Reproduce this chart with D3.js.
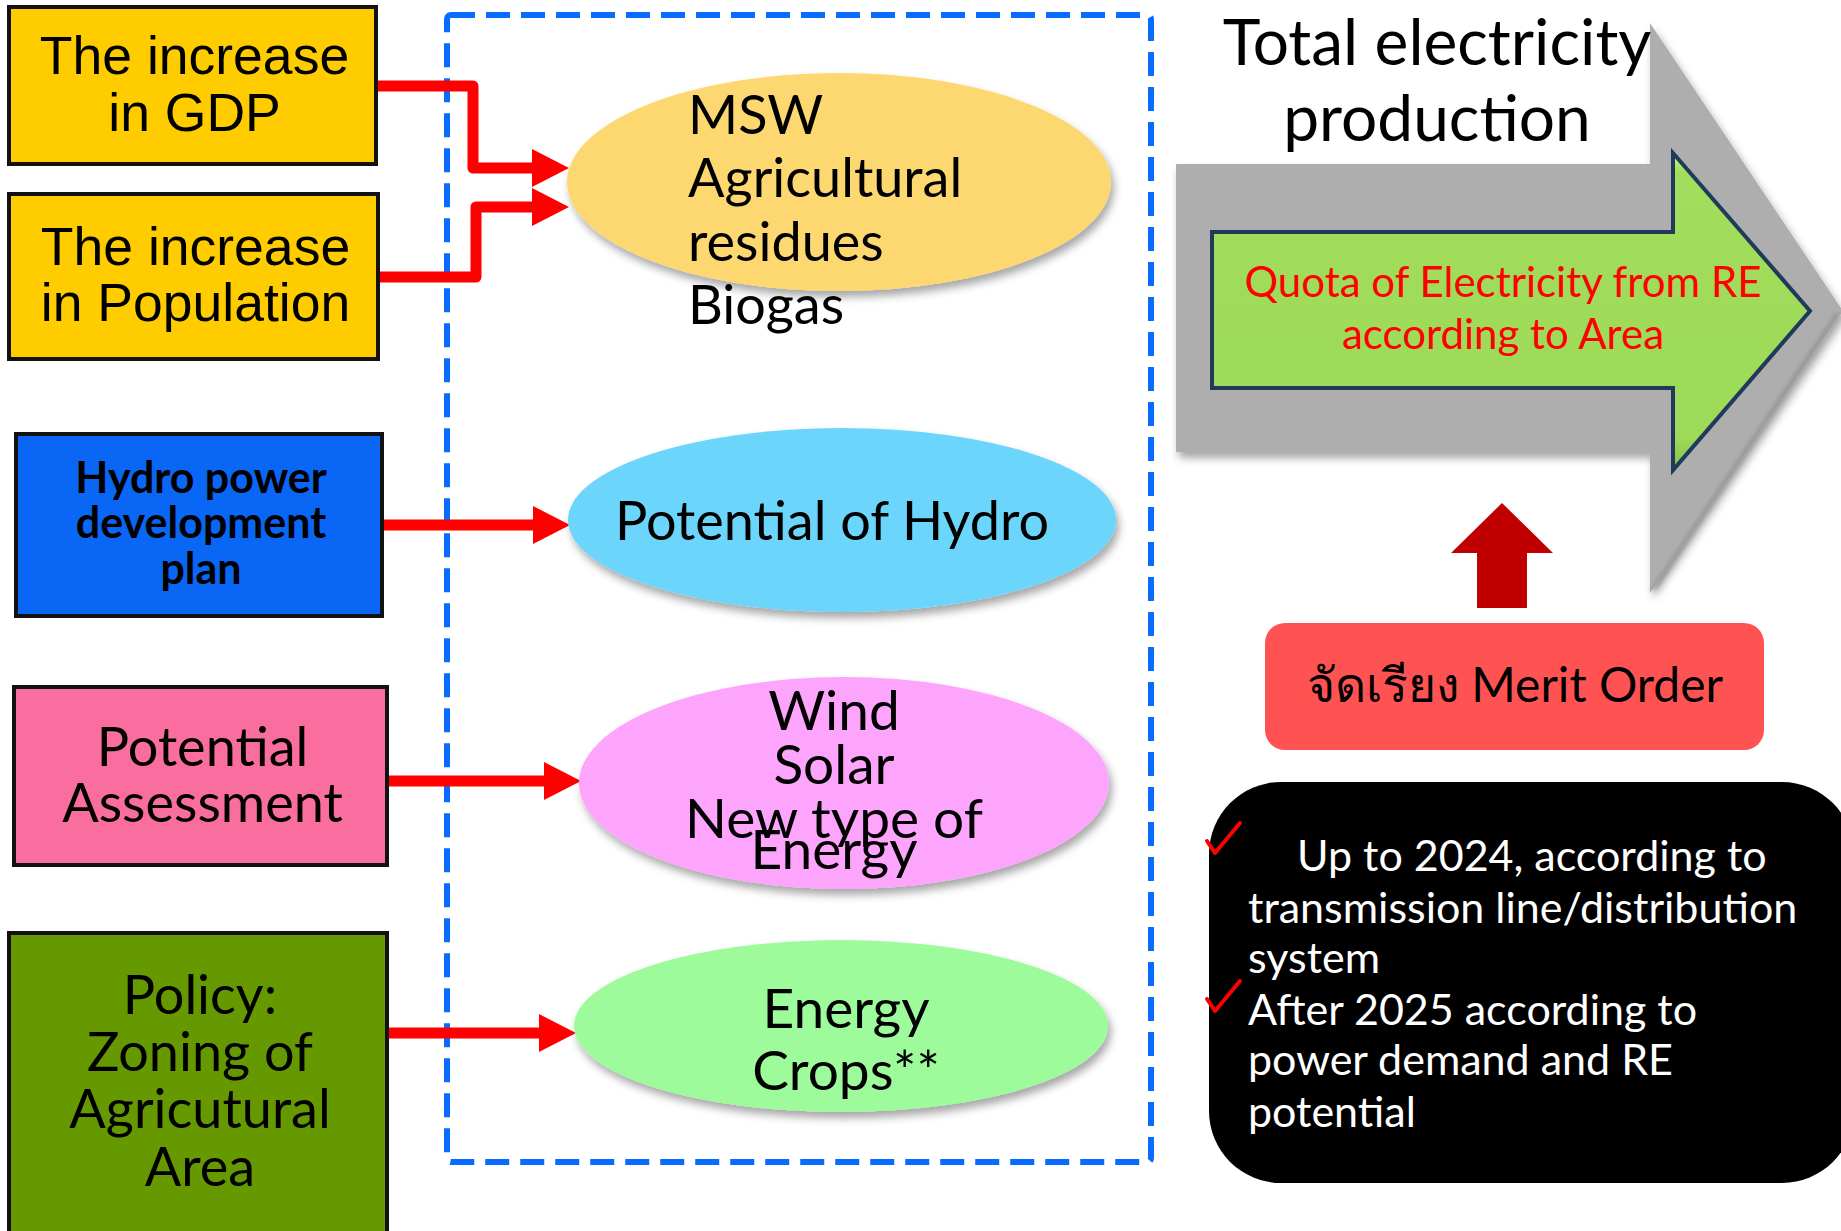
<!DOCTYPE html>
<html lang="en">
<head>
<meta charset="utf-8">
<title>RE quota by area</title>
<script src="https://d3js.org/d3.v7.min.js"></script>
<style>
  body { margin: 0; background: #fff; }
  svg { display: block; }
  .seg { font-family: Lato, "Open Sans", sans-serif; }
  .arial { font-family: "Liberation Sans", Arial, sans-serif; }
</style>
</head>
<body>
<div id="chart"></div>
<script>
"use strict"

// ---- content ----
var driverLabels = [
  ["The increase", "in GDP"],
  ["The increase", "in Population"],
  ["Hydro power", "development", "plan"],
  ["Potential", "Assessment"],
  ["Policy:", "Zoning of", "Agricutural", "Area"]
];
var potentialLabels = [
  ["MSW", "Agricultural", "residues", "Biogas"],
  ["Potential of Hydro"],
  ["Wind", "Solar", "New type of", "Energy"],
  ["Energy", "Crops**"]
];
// driver index -> potential index
var links = [[0, 0], [1, 0], [2, 1], [3, 2], [4, 3]];
var titleLines = ["Total electricity", "production"];
var quotaLines = ["Quota of Electricity from RE", "according to Area"];
var meritLabel = "จัดเรียง Merit Order";
var noteLines = ["Up to 2024, according to", "transmission line/distribution", "system",
                 "After 2025 according to", "power demand and RE", "potential"];

// ---- layout (pixels) ----
var W = 1841, H = 1231;
var boxLayout = [
  {x: 9,  y: 7,   w: 367, h: 157, fill: "#FFCC00", cls: "arial", size: 53.5, weight: 400, base: [74, 131], out: 86},
  {x: 9,  y: 194, w: 369, h: 165, fill: "#FFCC00", cls: "arial", size: 53.5, weight: 400, base: [265, 321], out: 277},
  {x: 16, y: 434, w: 366, h: 182, fill: "#0A66F5", cls: "seg", size: 43, weight: 700, base: [493, 538, 584], out: 525},
  {x: 14, y: 687, w: 373, h: 178, fill: "#F96E9E", cls: "seg", size: 54, weight: 400, base: [766, 822], out: 781},
  {x: 9,  y: 933, w: 378, h: 330, fill: "#669900", cls: "seg", size: 54, weight: 400, base: [1014, 1071, 1128, 1186], out: 1033}
];
var ovalLayout = [
  {cx: 839, cy: 182, rx: 272, ry: 109, fill: "#FDD870", anchor: "start", tx: 688, size: 54, base: [134, 197, 261, 324], inY: 168},
  {cx: 842, cy: 520, rx: 274, ry: 92,  fill: "#6CD5FB", anchor: "middle", tx: 832, size: 54, base: [540], inY: 525},
  {cx: 844, cy: 783, rx: 265, ry: 106, fill: "#FDA4FC", anchor: "middle", tx: 834, size: 55, base: [730, 784, 838, 869], inY: 781},
  {cx: 841, cy: 1026, rx: 267, ry: 86, fill: "#9DFB9C", anchor: "middle", tx: 846, size: 55, base: [1028, 1090], inY: 1033}
];
var bendX = [473, 476];   // elbow x for the two GDP / population connectors
var extraIn = [168, 207]; // arrow y into MSW oval for those two

var svg = d3.select("#chart").append("svg")
  .attr("width", W).attr("height", H);

var defs = svg.append("defs");
defs.append("filter").attr("id", "shadow").attr("x", "-20%").attr("y", "-20%")
    .attr("width", "140%").attr("height", "150%")
  .append("feDropShadow").attr("dx", 3).attr("dy", 6).attr("stdDeviation", 4)
    .attr("flood-color", "#000").attr("flood-opacity", 0.35);
defs.append("filter").attr("id", "soft")
  .append("feGaussianBlur").attr("stdDeviation", 2);

var gGrad = defs.append("linearGradient").attr("id", "greenGrad")
  .attr("x1", 0).attr("y1", 0).attr("x2", 0).attr("y2", 1);
gGrad.append("stop").attr("offset", "0%").attr("stop-color", "#C9F58C");
gGrad.append("stop").attr("offset", "6%").attr("stop-color", "#A2DD5C");
gGrad.append("stop").attr("offset", "90%").attr("stop-color", "#9DDA58");
gGrad.append("stop").attr("offset", "100%").attr("stop-color", "#86C044");

var line = d3.line();

function addLines(g, lines, x, bases, size, anchor, fill, cls, weight) {
  g.selectAll(null).data(lines).enter().append("text")
    .attr("class", cls)
    .attr("x", x)
    .attr("y", (d, i) => bases[i])
    .attr("text-anchor", anchor)
    .attr("font-size", size)
    .attr("font-weight", weight || 400)
    .attr("fill", fill)
    .text(d => d);
}

// dashed frame around potentials
svg.append("rect")
  .attr("x", 447).attr("y", 15).attr("width", 704).attr("height", 1147).attr("rx", 4)
  .attr("fill", "none").attr("stroke", "#0A6CFF").attr("stroke-width", 6)
  .attr("stroke-dasharray", "24 11");

// red connectors
var conn = svg.append("g");
links.forEach(function (lk, i) {
  var b = boxLayout[lk[0]], o = ovalLayout[lk[1]];
  var x0 = b.x + b.w, tipX = o.cx - o.rx + 2, y1, pts;
  if (i < 2) {
    y1 = extraIn[i];
    pts = [[x0, b.out], [bendX[i], b.out], [bendX[i], y1], [tipX - 30, y1]];
  } else {
    y1 = b.out;
    pts = [[x0, y1], [tipX - 30, y1]];
  }
  conn.append("path").attr("d", line(pts))
    .attr("fill", "none").attr("stroke", "#FF0000").attr("stroke-width", 11)
    .attr("stroke-linejoin", "round");
  conn.append("path").attr("d", line([[tipX - 37, y1 - 19], [tipX, y1], [tipX - 37, y1 + 19]]) + "Z")
    .attr("fill", "#FF0000");
});

// driver boxes
var boxes = svg.selectAll("g.box").data(boxLayout).enter().append("g").attr("class", "box");
boxes.append("rect")
  .attr("x", d => d.x).attr("y", d => d.y).attr("width", d => d.w).attr("height", d => d.h)
  .attr("fill", d => d.fill).attr("stroke", "#111").attr("stroke-width", 4);
boxes.each(function (d, i) {
  addLines(d3.select(this), driverLabels[i], d.x + d.w / 2 + 2, d.base, d.size, "middle", "#000", d.cls, d.weight);
});

// potential ovals
var ovals = svg.selectAll("g.oval").data(ovalLayout).enter().append("g").attr("class", "oval");
ovals.append("ellipse")
  .attr("cx", d => d.cx).attr("cy", d => d.cy).attr("rx", d => d.rx).attr("ry", d => d.ry)
  .attr("fill", d => d.fill).attr("filter", "url(#shadow)");
ovals.each(function (d, i) {
  addLines(d3.select(this), potentialLabels[i], d.tx, d.base, d.size, d.anchor, "#000", "seg", 400);
});

// big grey arrow
var grey = [[1176, 164], [1650, 164], [1650, 23], [1843, 311], [1650, 593], [1650, 452], [1176, 452]];
svg.append("path").attr("d", line(grey) + "Z")
  .attr("fill", "#AEAEAE").attr("filter", "url(#shadow)");
svg.append("path").attr("d", line([[1180, 450], [1180, 167]]))
  .attr("stroke", "#F2F2F2").attr("stroke-width", 6).attr("filter", "url(#soft)");
svg.append("path").attr("d", line([[1653, 160], [1653, 45]]))
  .attr("stroke", "#F2F2F2").attr("stroke-width", 5).attr("filter", "url(#soft)");
svg.append("path").attr("d", line([[1653, 575], [1653, 456]]))
  .attr("stroke", "#F2F2F2").attr("stroke-width", 5).attr("filter", "url(#soft)");
svg.append("path").attr("d", line([[1180, 450], [1648, 450]]))
  .attr("stroke", "#8E8E8E").attr("stroke-width", 4).attr("filter", "url(#soft)");
svg.append("path").attr("d", line([[1653, 590], [1838, 313]]))
  .attr("stroke", "#8A8A8A").attr("stroke-width", 3).attr("filter", "url(#soft)");

// green arrow
var green = [[1212, 232], [1673, 232], [1673, 153], [1810, 311], [1673, 470], [1673, 388], [1212, 388]];
svg.append("path").attr("d", line(green) + "Z")
  .attr("fill", "url(#greenGrad)").attr("stroke", "#203A5C").attr("stroke-width", 4)
  .attr("stroke-linejoin", "miter");

addLines(svg, titleLines, 1437, [65, 141], 64, "middle", "#000", "seg", 400);
addLines(svg, quotaLines, 1503, [297, 349], 42, "middle", "#FF0000", "seg", 400);

// dark red up arrow
var up = [[1502, 503], [1553, 553], [1527, 553], [1527, 608], [1477, 608], [1477, 553], [1451, 553]];
svg.append("path").attr("d", line(up) + "Z").attr("fill", "#C00000");

// merit order box
svg.append("rect").attr("x", 1265).attr("y", 623).attr("width", 499).attr("height", 127).attr("rx", 20)
  .attr("fill", "#FF5353");
addLines(svg, [meritLabel], 1515, [702], 48, "middle", "#000", "seg", 400);

// note box
svg.append("rect").attr("x", 1209).attr("y", 782).attr("width", 645).attr("height", 401).attr("rx", 72)
  .attr("fill", "#000");
var noteG = svg.append("g");
noteG.selectAll(null).data(noteLines).enter().append("text")
  .attr("class", "seg")
  .attr("x", (d, i) => i === 0 ? 1297 : 1248)
  .attr("y", (d, i) => [871, 923, 973, 1025, 1075, 1127][i])
  .attr("font-size", 43)
  .attr("fill", "#fff")
  .text(d => d);

// red ticks
[[823], [981]].forEach(function (t) {
  var y = t[0];
  svg.append("path")
    .attr("d", "M1207," + (y + 18) + " L1215," + (y + 30) + " L1240," + y)
    .attr("fill", "none").attr("stroke", "#FF0000").attr("stroke-width", 4)
    .attr("stroke-linecap", "round").attr("stroke-linejoin", "round");
});
</script>
</body>
</html>
